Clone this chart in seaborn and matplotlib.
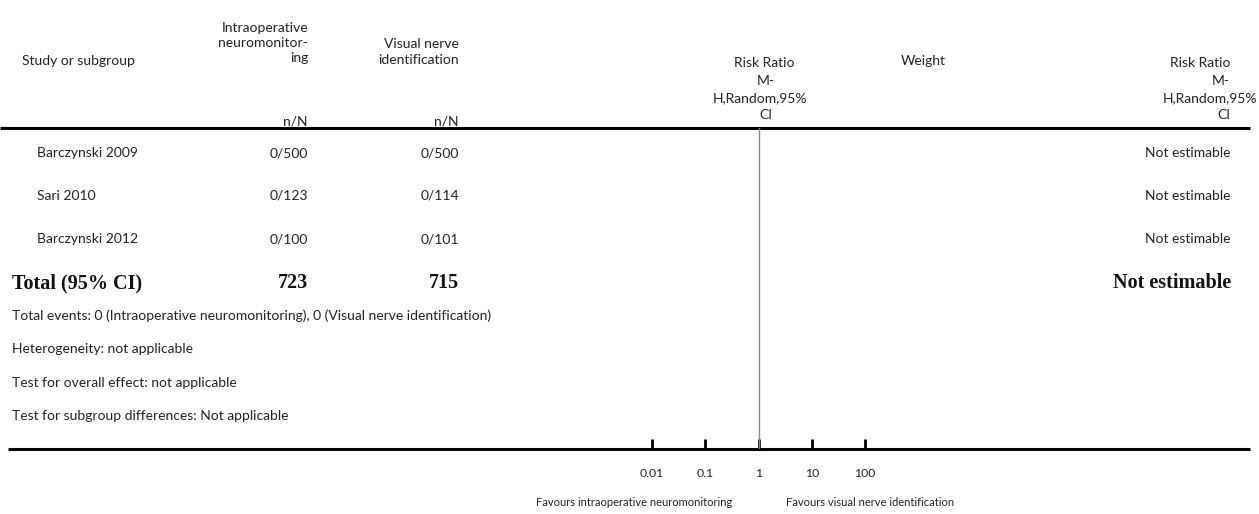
import numpy as np
import matplotlib
matplotlib.use("Agg")
import matplotlib.pyplot as plt
import seaborn as sns

# ---- data ----
studies = ["Barczynski 2009", "Sari 2010", "Barczynski 2012"]
events_ionm = [0, 0, 0]
total_ionm = [500, 123, 100]
events_vni = [0, 0, 0]
total_vni = [500, 114, 101]
rr_text = ["Not estimable", "Not estimable", "Not estimable"]
tick_values = [0.01, 0.1, 1, 10, 100]
tick_labels = ["0.01", "0.1", "1", "10", "100"]
footer_lines = [
    "Total events: 0 (Intraoperative neuromonitoring), 0 (Visual nerve identification)",
    "Heterogeneity: not applicable",
    "Test for overall effect: not applicable",
    "Test for subgroup differences: Not applicable",
]
rr_header = ["Risk Ratio", "M-", "H,Random,95%", "CI"]

sns.set_theme(style="white")
plt.rcParams["font.family"] = ["Lato", "DejaVu Sans"]

W, H = 1259, 514
fig = plt.figure(figsize=(W / 100, H / 100), dpi=100)

# overlay axes in pixel coordinates for the table
ax = fig.add_axes([0, 0, 1, 1])
ax.set_xlim(0, W)
ax.set_ylim(H, 0)
ax.axis("off")

txt = dict(color="#222222", fontsize=10, fontweight="normal", va="center")
bold = dict(color="#111111", fontsize=14.5, fontweight="bold", va="center",
            family=["Liberation Serif", "DejaVu Serif"])

col_a, col_b = 308, 459
weight_center = 923
ls = 1.32

# header
ax.text(22, 61, "Study or subgroup", ha="left", **txt)
ax.text(col_a, 43, "Intraoperative\nneuromonitor-\ning", ha="right",
        linespacing=ls, **txt)
ax.text(col_b, 52, "Visual nerve\nidentification", ha="right",
        linespacing=ls, **txt)
ax.text(col_a, 121, "n/N", ha="right", **txt)
ax.text(col_b, 121, "n/N", ha="right", **txt)

header_y = [63, 81, 98, 115]
left_centers = [764, 766, 760, 766]
for y, cx, line in zip(header_y, left_centers, rr_header):
    ax.text(cx, y, line, ha="center", **txt)
ax.text(weight_center, 61, "Weight", ha="center", **txt)
right_edges = [1231, 1230, 1257, 1230]
for y, rx, line in zip(header_y, right_edges, rr_header):
    ax.text(rx, y, line, ha="right", **txt)
ax.plot([0, 1250], [128, 128], color="black", lw=2.2, solid_capstyle="butt")

# study rows
row_y = [153, 196, 239]
for y, name, ea, na, eb, nb, rr in zip(row_y, studies, events_ionm, total_ionm,
                                        events_vni, total_vni, rr_text):
    ax.text(37, y, name, ha="left", **txt)
    ax.text(col_a, y, f"{ea}/{na}", ha="right", **txt)
    ax.text(col_b, y, f"{eb}/{nb}", ha="right", **txt)
    ax.text(1231, y, rr, ha="right", **txt)

# total row
ax.text(12, 283, "Total (95% CI)", ha="left", **bold)
ax.text(col_a, 283, str(sum(total_ionm)), ha="right", **bold)
ax.text(col_b, 283, str(sum(total_vni)), ha="right", **bold)
ax.text(1231, 283, "Not estimable", ha="right", **bold)

for y, line in zip([316, 349, 383, 416], footer_lines):
    ax.text(12, y, line, ha="left", **txt)

ax.plot([8, 1250], [449, 449], color="black", lw=2.2, solid_capstyle="butt")

# forest axis: log scale from 0.01 to 100
x0, x1 = 652, 865
y_top, y_bot = 128, 449
fax = fig.add_axes([x0 / W, (H - y_bot) / H, (x1 - x0) / W, (y_bot - y_top) / H])
fax.patch.set_alpha(0)
fax.set_xscale("log")
fax.set_xlim(tick_values[0], tick_values[-1])
fax.set_ylim(0, 1)
sns.despine(ax=fax, left=True, bottom=True)
fax.set_yticks([])
fax.set_xticks(tick_values)
fax.set_xticklabels(tick_labels)
fax.minorticks_off()
fax.tick_params(axis="x", which="major", bottom=True, direction="in",
                length=7, width=2, color="black", pad=14, labelsize=8.8,
                labelcolor="#222222")
fax.axvline(1, color="#888888", lw=1)

ax.text(732, 503, "Favours intraoperative neuromonitoring", ha="right",
        color="#222222", fontsize=8, va="center")
ax.text(786, 503, "Favours visual nerve identification", ha="left",
        color="#222222", fontsize=8, va="center")

fig.savefig("out.png", dpi=100)
